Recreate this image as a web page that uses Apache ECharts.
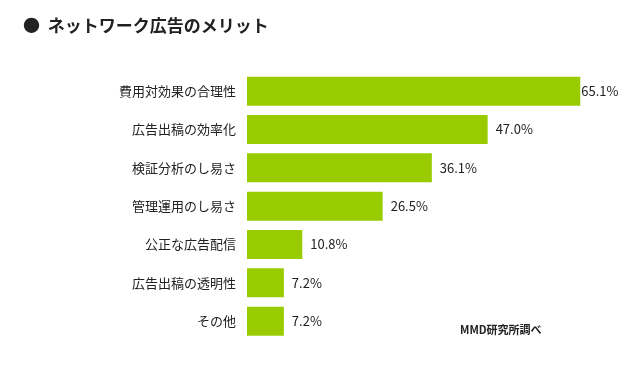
<!DOCTYPE html>
<html><head><meta charset="utf-8">
<script src="https://cdn.jsdelivr.net/npm/echarts@6/dist/echarts.min.js"></script>
<style>html,body{margin:0;padding:0;background:#fff}#c{width:643px;height:370px}</style>
</head><body><div id="c"></div>
<script>
const categories = ["費用対効果の合理性","広告出稿の効率化","検証分析のし易さ","管理運用のし易さ","公正な広告配信","広告出稿の透明性","その他"];
const values = [65.1, 47.0, 36.1, 26.5, 10.8, 7.2, 7.2];
const titleText = "ネットワーク広告のメリット";
const sourceText = "MMD研究所調べ";

const font = '"Noto Sans CJK JP", "Noto Sans", sans-serif';
const chart = echarts.init(document.getElementById('c'));
chart.setOption({
  animation: false,
  backgroundColor: '#fff',
  title: [{
    text: '●  ' + titleText,
    left: 18, top: 12,
    textStyle: {fontFamily: font, fontSize: 17, fontWeight: 'bold', color: '#222'}
  }],
  graphic: [{
    type: 'text', left: 460, top: 324,
    style: {text: sourceText, font: 'bold 11px ' + font, fill: '#222'}
  }],
  grid: {left: 247, top: 72, width: 333.3, height: 268.3, containLabel: false},
  xAxis: {type: 'value', min: 0, max: 65.1, show: false},
  yAxis: {
    type: 'category', data: categories, inverse: true,
    axisLine: {show: false}, axisTick: {show: false},
    axisLabel: {margin: 11, fontFamily: font, fontSize: 13, color: '#222'}
  },
  series: [{
    type: 'bar', barWidth: 29,
    data: values.map((v, i) => i === 0 ? {value: v, label: {distance: 1}} : v),
    itemStyle: {color: '#99cc00'},
    label: {show: true, position: 'right', distance: 8, formatter: p => p.value.toFixed(1) + '%',
      fontFamily: font, fontSize: 13, color: '#222'}
  }]
});
</script></body></html>
